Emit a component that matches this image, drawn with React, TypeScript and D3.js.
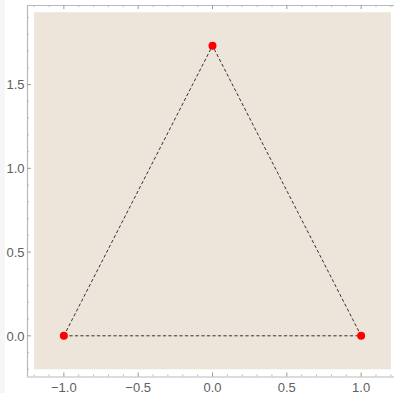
import React from "react";
import * as d3 from "d3";

const pointX = [-1, 1, 0];
const pointY = [0, 0, 1.732];
const xMajorTicks = [-1, -0.5, 0, 0.5, 1];
const yMajorTicks = [0, 0.5, 1, 1.5];
const xLabels = ["\u22121.0", "\u22120.5", "0.0", "0.5", "1.0"];
const yLabels = ["0.0", "0.5", "1.0", "1.5"];

const W = 394;
const H = 393;

export default function App() {
  const x = d3.scaleLinear().domain([-1.248, 1.248]).range([27, 398]);
  const y = d3.scaleLinear().domain([-0.243, 1.975]).range([376.5, 5]);

  const xMinor = d3.range(-12, 13).map((v) => v / 10).filter((v) => !xMajorTicks.some((m) => Math.abs(m - v) < 1e-6));
  const yMinor = d3.range(-2, 20).map((v) => v / 10).filter((v) => !yMajorTicks.some((m) => Math.abs(m - v) < 1e-6));

  const pts = pointX.map((px, i) => [px, pointY[i]] as [number, number]);
  const line = d3
    .line<[number, number]>()
    .x((d) => x(d[0]))
    .y((d) => y(d[1]));
  const tri = line([pts[0], pts[1], pts[2], pts[0]]) || "";

  const [x0, x1] = x.range();
  const [y0, y1] = [y(-0.243), y(1.975)];
  const frameColor = "#b9b9b9";
  const tickColor = "#9a9a9a";
  const labelColor = "#606060";
  const font = "'Liberation Sans', Arial, sans-serif";

  return (
    <svg width={W} height={H} style={{ position: "absolute", left: 0, top: 0, background: "#fff" }}>
      <rect x={0} y={0} width={5} height={H} fill="#f6f6f6" />
      <rect
        x={x(-1.2)}
        y={y(1.932)}
        width={x(1.2) - x(-1.2)}
        height={y(-0.2) - y(1.932)}
        fill="#ede5da"
      />
      {/* frame */}
      <line x1={x0} x2={x1} y1={y0 + 0.5} y2={y0 + 0.5} stroke={frameColor} strokeWidth={1.2} />
      <line x1={x0} x2={x1} y1={y1 + 0.5} y2={y1 + 0.5} stroke={frameColor} strokeWidth={1.2} />
      <line x1={x0 + 0.5} x2={x0 + 0.5} y1={y1} y2={y0} stroke={frameColor} strokeWidth={1.2} />
      {/* x ticks */}
      {xMajorTicks.map((v) => (
        <g key={"xm" + v}>
          <line x1={x(v)} x2={x(v)} y1={y0} y2={y0 - 4} stroke={tickColor} />
          <line x1={x(v)} x2={x(v)} y1={y1} y2={y1 + 4} stroke={tickColor} />
        </g>
      ))}
      {xMinor.map((v) => (
        <g key={"xn" + v}>
          <line x1={x(v)} x2={x(v)} y1={y0} y2={y0 - 2} stroke={frameColor} />
          <line x1={x(v)} x2={x(v)} y1={y1} y2={y1 + 2} stroke={frameColor} />
        </g>
      ))}
      {yMajorTicks.map((v) => (
        <line key={"ym" + v} x1={x0} x2={x0 + 4} y1={y(v)} y2={y(v)} stroke={tickColor} />
      ))}
      {yMinor.map((v) => (
        <line key={"yn" + v} x1={x0} x2={x0 + 2} y1={y(v)} y2={y(v)} stroke={frameColor} />
      ))}
      {/* labels */}
      {xMajorTicks.map((v, i) => (
        <text
          key={"xl" + v}
          x={x(v)}
          y={391.5}
          textAnchor="middle"
          fontFamily={font}
          fontSize={13}
          fill={labelColor}
        >
          {xLabels[i]}
        </text>
      ))}
      {yMajorTicks.map((v, i) => (
        <text
          key={"yl" + v}
          x={24.5}
          y={y(v)}
          dy="0.37em"
          textAnchor="end"
          fontFamily={font}
          fontSize={13}
          fill={labelColor}
        >
          {yLabels[i]}
        </text>
      ))}
      {/* triangle */}
      <path d={tri} fill="none" stroke="#333" strokeWidth={1} strokeDasharray="3.3,2.2" />
      {pts.map((p, i) => (
        <circle key={i} cx={x(p[0])} cy={y(p[1])} r={4} fill="#ff0000" />
      ))}
    </svg>
  );
}
